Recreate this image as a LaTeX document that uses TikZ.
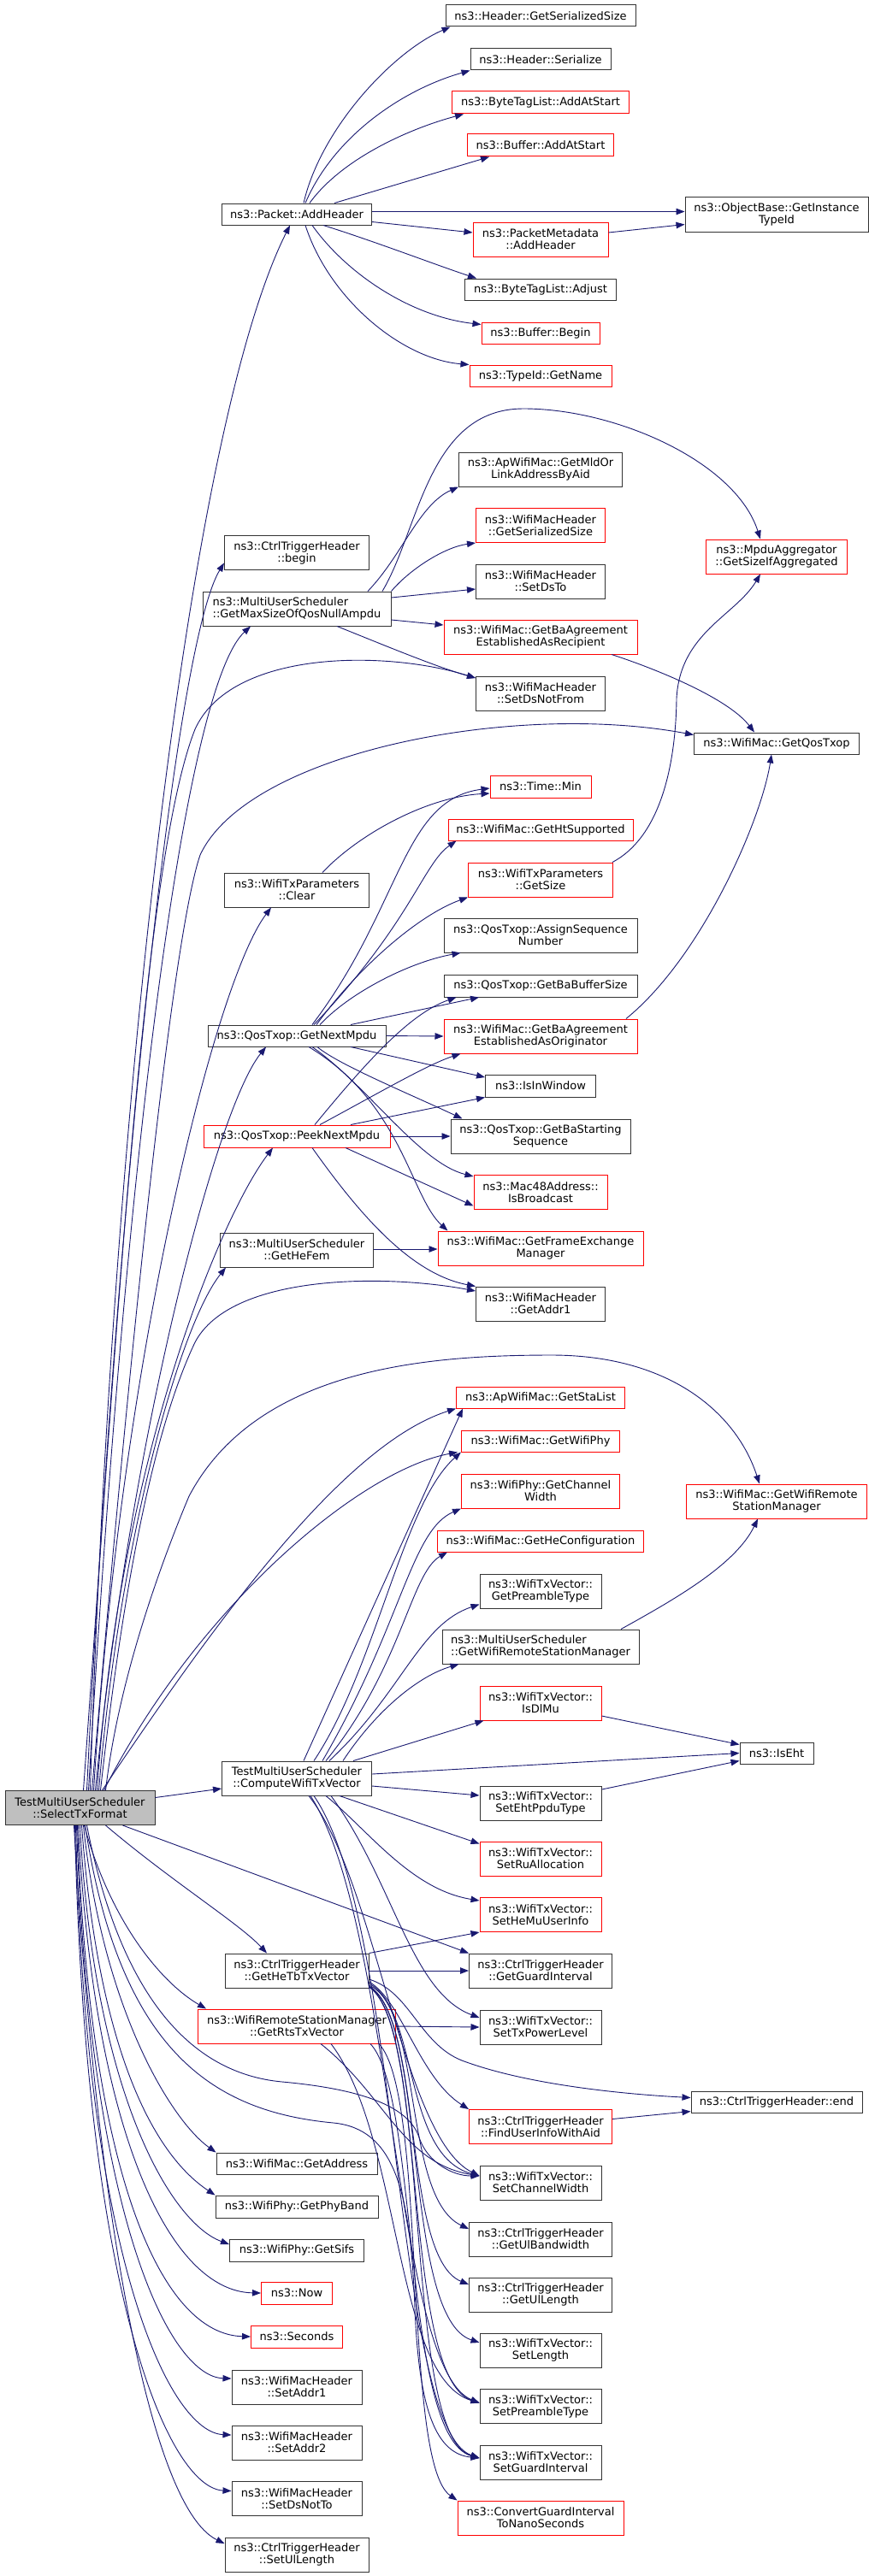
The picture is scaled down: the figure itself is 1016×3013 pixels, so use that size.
\documentclass[tikz,border=0pt]{standalone}
\usepackage{fontspec}
\setmainfont{DejaVu Sans}
\usetikzlibrary{arrows.meta}
\definecolor{edgeblue}{HTML}{191970}
\definecolor{rootgray}{HTML}{BFBFBF}
\begin{document}
\begin{tikzpicture}[x=1pt,y=1pt,
	fn/.style={draw=black!80,line width=1pt,fill=white,inner sep=0pt,align=center,
		font=\fontsize{13}{14}\selectfont,minimum height=25pt},
	fnred/.style={fn,draw=red},
	fnroot/.style={fn,fill=rootgray},
	two/.style={minimum height=40pt},
	call/.style={draw=edgeblue,line width=0.9pt,-{Triangle[length=10pt,width=7.5pt]}}]
\useasboundingbox (0,0) rectangle (1016,-3013);

\node[fnroot,two,minimum width=175pt] (root) at (93.5,-2114.5) {TestMultiUserScheduler\\::SelectTxFormat};

\node[fn,minimum width=175pt] (addhdr) at (347,-250.5) {ns3::Packet::AddHeader};
\node[fn,two,minimum width=169pt] (ctbegin) at (347,-646.5) {ns3::CtrlTriggerHeader\\::begin};
\node[fn,two,minimum width=220pt,align=left] (maxnull) at (347,-712) {ns3::MultiUserScheduler\\::GetMaxSizeOfQosNullAmpdu};
\node[fn,two,minimum width=169pt] (txpclr) at (347,-1041) {ns3::WifiTxParameters\\::Clear};
\node[fn,minimum width=208pt] (nextmpdu) at (347,-1211.5) {ns3::QosTxop::GetNextMpdu};
\node[fnred,minimum width=218pt,minimum height=26pt] (peek) at (347,-1329) {ns3::QosTxop::PeekNextMpdu};
\node[fn,two,minimum width=179pt] (hefem) at (347,-1462) {ns3::MultiUserScheduler\\::GetHeFem};
\node[fn,two,minimum width=175pt] (compute) at (347,-2080) {TestMultiUserScheduler\\::ComputeWifiTxVector};
\node[fn,two,minimum width=168pt] (hetb) at (347,-2305) {ns3::CtrlTriggerHeader\\::GetHeTbTxVector};
\node[fnred,two,minimum width=231pt] (rts) at (347,-2370) {ns3::WifiRemoteStationManager\\::GetRtsTxVector};
\node[fn,minimum width=188pt] (getaddr) at (347,-2530.5) {ns3::WifiMac::GetAddress};
\node[fn,minimum width=190pt,minimum height=26pt] (phyband) at (347,-2581) {ns3::WifiPhy::GetPhyBand};
\node[fn,minimum width=157pt,minimum height=26pt] (sifs) at (347,-2632) {ns3::WifiPhy::GetSifs};
\node[fnred,minimum width=83pt,minimum height=26pt] (now) at (347,-2682) {ns3::Now};
\node[fnred,minimum width=107pt,minimum height=26pt] (seconds) at (347,-2733) {ns3::Seconds};
\node[fn,two,minimum width=152pt] (setaddr1) at (347,-2792) {ns3::WifiMacHeader\\::SetAddr1};
\node[fn,two,minimum width=152pt] (setaddr2) at (347,-2857) {ns3::WifiMacHeader\\::SetAddr2};
\node[fn,two,minimum width=152pt] (setdsnt) at (347,-2922.5) {ns3::WifiMacHeader\\::SetDsNotTo};
\node[fn,two,minimum width=168pt] (setulen) at (347,-2988) {ns3::CtrlTriggerHeader\\::SetUlLength};

\node[fn,minimum width=222pt] (hgss) at (632,-18.5) {ns3::Header::GetSerializedSize};
\node[fn,minimum width=164pt] (hser) at (632,-69.5) {ns3::Header::Serialize};
\node[fnred,minimum width=207pt,minimum height=26pt] (btaas) at (632,-120) {ns3::ByteTagList::AddAtStart};
\node[fnred,minimum width=171pt,minimum height=26pt] (bufaas) at (632,-170) {ns3::Buffer::AddAtStart};
\node[fnred,two,minimum width=158pt] (pmah) at (632,-280) {ns3::PacketMetadata\\::AddHeader};
\node[fn,minimum width=177pt] (btadj) at (632,-338.5) {ns3::ByteTagList::Adjust};
\node[fnred,minimum width=138pt] (bufbeg) at (632,-389.5) {ns3::Buffer::Begin};
\node[fnred,minimum width=166pt] (tidgn) at (632,-439.5) {ns3::TypeId::GetName};
\node[fn,two,minimum width=191pt] (apmld) at (632,-549) {ns3::ApWifiMac::GetMldOr\\LinkAddressByAid};
\node[fnred,two,minimum width=151pt] (wmhgss) at (632,-614.5) {ns3::WifiMacHeader\\::GetSerializedSize};
\node[fn,two,minimum width=151pt] (setdsto) at (632,-680) {ns3::WifiMacHeader\\::SetDsTo};
\node[fnred,two,minimum width=226pt] (baRecip) at (632,-745) {ns3::WifiMac::GetBaAgreement\\EstablishedAsRecipient};
\node[fn,two,minimum width=151pt] (setdsnf) at (632,-811) {ns3::WifiMacHeader\\::SetDsNotFrom};
\node[fnred,minimum width=118pt,minimum height=26pt] (tmin) at (632,-920) {ns3::Time::Min};
\node[fnred,minimum width=216pt] (htsup) at (632,-970.5) {ns3::WifiMac::GetHtSupported};
\node[fnred,two,minimum width=169pt] (txpgs) at (632,-1029) {ns3::WifiTxParameters\\::GetSize};
\node[fn,two,minimum width=226pt] (asn) at (632,-1094) {ns3::QosTxop::AssignSequence\\Number};
\node[fn,minimum width=226pt,minimum height=26pt] (babuf) at (632,-1153) {ns3::QosTxop::GetBaBufferSize};
\node[fnred,two,minimum width=226pt] (baOrig) at (632,-1212) {ns3::WifiMac::GetBaAgreement\\EstablishedAsOriginator};
\node[fn,minimum width=129pt,minimum height=26pt] (inwin) at (632,-1270) {ns3::IsInWindow};
\node[fn,two,minimum width=210pt] (bastart) at (632,-1329) {ns3::QosTxop::GetBaStarting\\Sequence};
\node[fnred,two,minimum width=156pt] (isbcast) at (632,-1394.5) {ns3::Mac48Address::\\IsBroadcast};
\node[fnred,two,minimum width=240pt] (fem) at (632,-1460) {ns3::WifiMac::GetFrameExchange\\Manager};
\node[fn,two,minimum width=151pt] (getaddr1) at (632,-1525) {ns3::WifiMacHeader\\::GetAddr1};
\node[fnred,minimum width=197pt] (stalist) at (632,-1634.5) {ns3::ApWifiMac::GetStaList};
\node[fnred,minimum width=185pt] (wifiphy) at (632,-1685.5) {ns3::WifiMac::GetWifiPhy};
\node[fnred,two,minimum width=185pt] (chwidth) at (632,-1744) {ns3::WifiPhy::GetChannel\\Width};
\node[fnred,minimum width=241pt] (hecfg) at (632,-1802.5) {ns3::WifiMac::GetHeConfiguration};
\node[fn,two,minimum width=142pt] (getpre) at (632,-1861) {ns3::WifiTxVector::\\GetPreambleType};
\node[fn,two,minimum width=230pt,align=left] (musrsm) at (632,-1926) {ns3::MultiUserScheduler\\::GetWifiRemoteStationManager};
\node[fnred,two,minimum width=142pt] (isdlmu) at (632,-1992) {ns3::WifiTxVector::\\IsDlMu};
\node[fn,two,minimum width=142pt] (setehtppdu) at (632,-2109) {ns3::WifiTxVector::\\SetEhtPpduType};
\node[fnred,two,minimum width=142pt] (setru) at (632,-2174) {ns3::WifiTxVector::\\SetRuAllocation};
\node[fnred,two,minimum width=142pt] (sethemu) at (632,-2239.5) {ns3::WifiTxVector::\\SetHeMuUserInfo};
\node[fn,two,minimum width=167pt] (getgi) at (632,-2305) {ns3::CtrlTriggerHeader\\::GetGuardInterval};
\node[fn,two,minimum width=142pt] (settxpw) at (632,-2371) {ns3::WifiTxVector::\\SetTxPowerLevel};
\node[fnred,two,minimum width=167pt] (finduser) at (632,-2487.5) {ns3::CtrlTriggerHeader\\::FindUserInfoWithAid};
\node[fn,two,minimum width=142pt] (setchw) at (632,-2553) {ns3::WifiTxVector::\\SetChannelWidth};
\node[fn,two,minimum width=167pt] (ulbw) at (632,-2619) {ns3::CtrlTriggerHeader\\::GetUlBandwidth};
\node[fn,two,minimum width=167pt] (ullen) at (632,-2684) {ns3::CtrlTriggerHeader\\::GetUlLength};
\node[fn,two,minimum width=142pt] (setlen) at (632,-2749) {ns3::WifiTxVector::\\SetLength};
\node[fn,two,minimum width=142pt] (setpre) at (632,-2814.5) {ns3::WifiTxVector::\\SetPreambleType};
\node[fn,two,minimum width=142pt] (setgi) at (632,-2880) {ns3::WifiTxVector::\\SetGuardInterval};
\node[fnred,two,minimum width=194pt] (convgi) at (632,-2945) {ns3::ConvertGuardInterval\\ToNanoSeconds};

\node[fn,minimum width=214pt,minimum height=41pt] (obgit) at (908,-250.5) {ns3::ObjectBase::GetInstance\\TypeId};
\node[fnred,two,minimum width=165pt] (mpdugs) at (908,-651) {ns3::MpduAggregator\\::GetSizeIfAggregated};
\node[fn,minimum width=193pt] (qostxop) at (908,-869.5) {ns3::WifiMac::GetQosTxop};
\node[fnred,two,minimum width=211pt] (wmrsm) at (908,-1756) {ns3::WifiMac::GetWifiRemote\\StationManager};
\node[fn,minimum width=86pt] (iseht) at (908,-2050.5) {ns3::IsEht};
\node[fn,minimum width=200pt] (ctend) at (908,-2458.5) {ns3::CtrlTriggerHeader::end};

\draw[call] ([xshift=8]addhdr.north) .. controls (375,-150) and (460,-60) .. ([xshift=6]hgss.south west);
\draw[call] ([xshift=10]addhdr.north) .. controls (390,-160) and (470,-105) .. (hser.south west);
\draw[call] ([xshift=15]addhdr.north) .. controls (400,-185) and (480,-150) .. ([xshift=14]btaas.south west);
\draw[call] ([xshift=44]addhdr.north) -- ([xshift=-60]bufaas.south);
\draw[call] ([yshift=3]addhdr.east) -- ([yshift=3]obgit.west);
\draw[call] ([yshift=-9]addhdr.east) -- ([yshift=8]pmah.west);
\draw[call] ([xshift=31]addhdr.south) .. controls (440,-283) and (510,-310) .. ([xshift=14]btadj.north west);
\draw[call] ([xshift=18]addhdr.south) .. controls (405,-320) and (480,-370) .. ([yshift=-3]bufbeg.north west);
\draw[call] ([xshift=10]addhdr.south) .. controls (385,-350) and (470,-420) .. (tidgn.north west);
\draw[call] ([yshift=8]pmah.east) -- ([yshift=-12]obgit.west);

\draw[call] ([xshift=83]maxnull.north) .. controls (470,-650) and (490,-590) .. (apmld.south west);
\draw[call] ([xshift=100]maxnull.north) .. controls (490,-620) and (500,-478) .. (612,-478)
	.. controls (720,-478) and (860,-540) .. ([xshift=-19]mpdugs.north);
\draw[call] (maxnull.north east) .. controls (480,-665) and (520,-640) .. (wmhgss.south west);
\draw[call] ([yshift=13]maxnull.east) -- ([yshift=-9]setdsto.west);
\draw[call] ([yshift=-13]maxnull.east) -- ([yshift=14]baRecip.west);
\draw[call] ([xshift=47]maxnull.south) .. controls (450,-755) and (510,-780) .. ([yshift=18]setdsnf.west);
\draw[call] ([xshift=83]baRecip.south) .. controls (760,-780) and (850,-815) .. ([xshift=-26]qostxop.north);
\draw[call] ([xshift=100]baOrig.north) .. controls (820,-1120) and (890,-960) .. ([xshift=-6]qostxop.south);
\draw[call] ([xshift=84]txpgs.north) .. controls (770,-980) and (790,-900) .. (791,-817)
	.. controls (795,-740) and (860,-720) .. ([xshift=-19]mpdugs.south);

\draw[call] ([xshift=30]txpclr.north) .. controls (420,-975) and (500,-932) .. ([yshift=-8]tmin.west);
\draw[call] ([xshift=18]nextmpdu.north) .. controls (470,-1060) and (470,-935) .. ([yshift=-2]tmin.west);
\draw[call] ([xshift=20]nextmpdu.north) .. controls (480,-1080) and (495,-1010) .. ([xshift=10]htsup.south west);
\draw[call] ([xshift=23]nextmpdu.north) .. controls (420,-1130) and (490,-1070) .. (txpgs.south west);
\draw[call] ([xshift=27]nextmpdu.north) .. controls (410,-1160) and (480,-1125) .. ([xshift=20]asn.south west);
\draw[call] ([xshift=63]nextmpdu.north) -- ([xshift=-72]babuf.south);
\draw[call] (nextmpdu.east) -- (baOrig.west);
\draw[call] ([xshift=63]nextmpdu.south) -- ([yshift=10]inwin.west);
\draw[call] ([xshift=24]nextmpdu.south) .. controls (395,-1245) and (480,-1280) .. ([xshift=14]bastart.north west);
\draw[call] ([xshift=18]nextmpdu.south) .. controls (430,-1270) and (490,-1360) .. ([yshift=-2]isbcast.north west);
\draw[call] ([xshift=14]nextmpdu.south) .. controls (470,-1290) and (480,-1400) .. ([xshift=12]fem.north west);

\draw[call] ([xshift=63]peek.north) -- (inwin.south west);
\draw[call] (peek.east) -- (bastart.west);
\draw[call] ([xshift=57]peek.south) -- ([yshift=-16]isbcast.west);
\draw[call] ([xshift=21]peek.north) .. controls (430,-1240) and (480,-1185) .. ([xshift=15]babuf.south west);
\draw[call] ([xshift=27]peek.north) .. controls (440,-1280) and (500,-1245) .. ([xshift=20]baOrig.south west);
\draw[call] ([xshift=18]peek.south) .. controls (420,-1420) and (480,-1490) .. (getaddr1.north west);
\draw[call] ([yshift=1]hefem.east) -- ([yshift=-1]fem.west);

\draw[call] ([xshift=12]root.north) .. controls (130,-1300) and (220,-500) .. ([xshift=-8]addhdr.south);
\draw[call] ([xshift=8]root.north) .. controls (130,-1500) and (200,-760) .. ([yshift=-12]ctbegin.west);
\draw[call] ([xshift=10]root.north) .. controls (150,-1300) and (220,-800) .. ([xshift=-54]maxnull.south);
\draw[call] ([xshift=4]root.north) .. controls (140,-1500) and (170,-1000) .. (228,-853)
	.. controls (270,-760) and (450,-760) .. ([yshift=18]setdsnf.west);
\draw[call] ([xshift=14]root.north) .. controls (150,-1600) and (200,-1100) .. (234,-1000)
	.. controls (290,-880) and (600,-820) .. ([yshift=10]qostxop.west);
\draw[call] ([xshift=16]root.north) .. controls (140,-1600) and (250,-1150) .. ([xshift=-30]txpclr.south);
\draw[call] ([xshift=18]root.north) .. controls (150,-1700) and (250,-1300) .. ([xshift=-36]nextmpdu.south);
\draw[call] ([xshift=20]root.north) .. controls (140,-1700) and (260,-1420) .. ([xshift=-28]peek.south);
\draw[call] ([xshift=22]root.north) .. controls (140,-1800) and (210,-1550) .. ([xshift=7]hefem.south west);
\draw[call] ([xshift=24]root.north) .. controls (150,-1800) and (190,-1650) .. (228,-1570)
	.. controls (270,-1490) and (450,-1490) .. ([yshift=15]getaddr1.west);
\draw[call] ([xshift=30]root.north) .. controls (140,-1950) and (200,-1800) .. (221,-1750)
	.. controls (300,-1600) and (500,-1585) .. (645,-1585)
	.. controls (780,-1585) and (860,-1650) .. ([xshift=-20]wmrsm.north);
\draw[call] ([xshift=26]root.north) .. controls (250,-1900) and (400,-1690) .. (stalist.south west);
\draw[call] ([xshift=28]root.north) .. controls (230,-1880) and (420,-1720) .. ([xshift=-4]wifiphy.south west);

\draw[call] ([xshift=8]compute.north) -- ([xshift=8]stalist.south west);
\draw[call] ([xshift=20]compute.north) .. controls (440,-1950) and (470,-1760) .. (wifiphy.south west);
\draw[call] ([xshift=30]compute.north) .. controls (470,-1900) and (480,-1790) .. (chwidth.south west);
\draw[call] ([xshift=34]compute.north) .. controls (470,-1950) and (480,-1840) .. ([xshift=12]hecfg.south west);
\draw[call] ([xshift=38]compute.north) .. controls (470,-1980) and (490,-1900) .. ([yshift=5]getpre.south west);
\draw[call] ([xshift=54]compute.north) .. controls (440,-2000) and (490,-1960) .. ([xshift=20]musrsm.south west);
\draw[call] ([xshift=94]musrsm.north) .. controls (790,-1870) and (860,-1830) .. ([xshift=-22]wmrsm.south);
\draw[call] ([xshift=66]compute.north) -- ([xshift=5]isdlmu.south west);
\draw[call] ([yshift=-15]isdlmu.east) -- ([yshift=10]iseht.west);
\draw[call] ([yshift=5]compute.east) -- (iseht.west);
\draw[call] ([yshift=16]setehtppdu.east) -- ([yshift=-9]iseht.west);
\draw[call] ([yshift=-9]compute.east) -- ([yshift=9]setehtppdu.west);
\draw[call] ([xshift=50]compute.south) -- ([yshift=-3]setru.north west);
\draw[call] ([xshift=34]compute.south) .. controls (430,-2140) and (480,-2210) .. ([yshift=-4]sethemu.north west);
\draw[call] ([yshift=12]root.east) -- ([yshift=-12]compute.west);

\draw[call] ([xshift=30]root.south) .. controls (200,-2200) and (280,-2250) .. ([xshift=-35]hetb.north);
\draw[call] (hetb.north east) -- (sethemu.south west);
\draw[call] (hetb.east) -- (getgi.west);
\draw[call] ([xshift=50]root.south) -- (getgi.north west);
\draw[call] ([xshift=40]compute.south) .. controls (460,-2200) and (480,-2330) .. ([yshift=11]settxpw.west);
\draw[call] (rts.east) -- (settxpw.west);
\draw[call] ([xshift=5]root.south) .. controls (130,-2250) and (190,-2320) .. ([xshift=10]rts.north west);

\draw[call] ([yshift=-10]hetb.east) .. controls (480,-2330) and (490,-2390) .. (540,-2410)
	.. controls (620,-2440) and (740,-2450) .. ([yshift=5]ctend.west);
\draw[call] ([yshift=9]finduser.east) -- ([yshift=-11]ctend.west);
\draw[call] ([yshift=-13]hetb.east) .. controls (470,-2340) and (490,-2430) .. (finduser.north west);
\draw[call] ([yshift=-15]hetb.east) .. controls (490,-2350) and (470,-2520) .. ([yshift=8]setchw.west);
\draw[call] ([yshift=-17]hetb.east) .. controls (495,-2350) and (470,-2570) .. ([yshift=12]ulbw.west);
\draw[call] ([yshift=-18]hetb.east) .. controls (495,-2360) and (470,-2640) .. ([yshift=12]ullen.west);
\draw[call] ([yshift=-19]hetb.east) .. controls (500,-2360) and (470,-2710) .. ([yshift=9]setlen.west);
\draw[call] ([yshift=-19]hetb.east) .. controls (500,-2370) and (470,-2780) .. ([yshift=4]setpre.west);
\draw[call] ([yshift=-19]hetb.east) .. controls (505,-2370) and (470,-2850) .. ([yshift=5]setgi.west);
\draw[call] ([xshift=28]rts.south) .. controls (450,-2450) and (470,-2530) .. ([yshift=8]setchw.west);
\draw[call] ([xshift=40]rts.south) .. controls (470,-2500) and (460,-2780) .. ([yshift=4]setpre.west);
\draw[call] ([xshift=86]rts.south) .. controls (490,-2450) and (470,-2850) .. ([yshift=5]setgi.west);
\draw[call] ([xshift=96]rts.south) .. controls (500,-2450) and (470,-2880) .. (convgi.north west);
\draw[call] ([xshift=14]compute.south) .. controls (440,-2200) and (470,-2500) .. ([yshift=8]setchw.west);
\draw[call] ([xshift=16]compute.south) .. controls (460,-2250) and (460,-2770) .. ([yshift=4]setpre.west);
\draw[call] ([xshift=20]compute.south) .. controls (470,-2250) and (460,-2840) .. ([yshift=5]setgi.west);
\draw[call] ([xshift=8]root.south) .. controls (140,-2330) and (220,-2425) .. (330,-2435)
	.. controls (440,-2445) and (480,-2470) .. (490,-2500)
	.. controls (500,-2530) and (530,-2545) .. ([yshift=8]setchw.west);
\draw[call] ([xshift=6]root.south) .. controls (140,-2400) and (250,-2470) .. (390,-2483)
	.. controls (460,-2490) and (480,-2560) .. (485,-2700)
	.. controls (490,-2820) and (510,-2870) .. ([yshift=5]setgi.west);

\draw[call] ([xshift=4]root.south) .. controls (120,-2350) and (200,-2480) .. (getaddr.north west);
\draw[call] ([xshift=2]root.south) .. controls (115,-2400) and (180,-2520) .. (phyband.north west);
\draw[call] (root.south) .. controls (110,-2450) and (200,-2600) .. ([yshift=7]sifs.west);
\draw[call] ([xshift=-2]root.south) .. controls (110,-2500) and (200,-2680) .. (now.west);
\draw[call] ([xshift=-3]root.south) .. controls (105,-2550) and (190,-2730) .. (seconds.west);
\draw[call] ([xshift=-4]root.south) .. controls (105,-2600) and (200,-2780) .. ([yshift=10]setaddr1.west);
\draw[call] ([xshift=-5]root.south) .. controls (100,-2650) and (200,-2845) .. ([yshift=9]setaddr2.west);
\draw[call] ([xshift=-6]root.south) .. controls (100,-2700) and (200,-2910) .. ([yshift=9]setdsnt.west);
\draw[call] ([xshift=-7]root.south) .. controls (110,-2550) and (170,-2930) .. ([yshift=13]setulen.west);
\end{tikzpicture}
\end{document}
